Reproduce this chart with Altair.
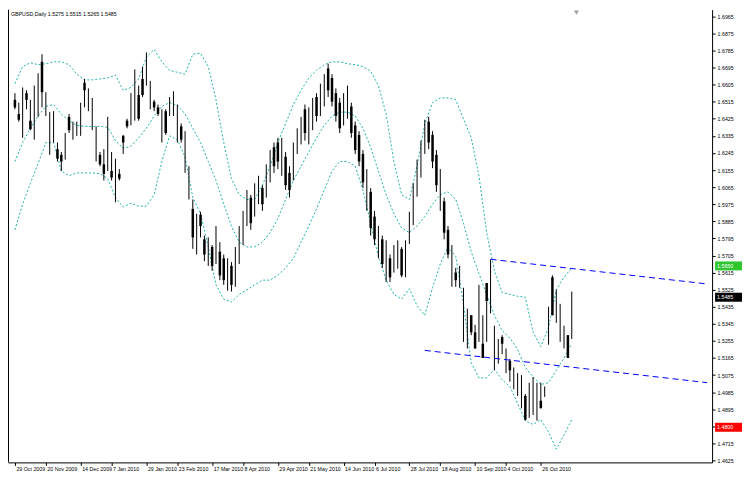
import altair as alt
import pandas as pd

SYMBOL = "GBPUSD,Daily"

opens = [1.6525, 1.645, 1.64, 1.656, 1.6415, 1.6375, 1.6475, 1.6725, 1.6475, 1.626,
         1.6325, 1.6265, 1.6235, 1.6225, 1.6435, 1.6335, 1.635, 1.635, 1.6615, 1.6475,
         1.6375, 1.6225, 1.6235, 1.6185, 1.6175, 1.615, 1.6025, 1.6135, 1.6335, 1.6415,
         1.641, 1.645, 1.655, 1.6635, 1.6625, 1.65, 1.6515, 1.6485, 1.6325, 1.6465,
         1.645, 1.646, 1.6325, 1.6385, 1.6175, 1.6025, 1.595, 1.575, 1.592, 1.579,
         1.5675, 1.575, 1.569, 1.5725, 1.569, 1.555, 1.565, 1.556, 1.569, 1.58,
         1.589, 1.601, 1.594, 1.601, 1.606, 1.604, 1.611, 1.6275, 1.63, 1.6175,
         1.6225, 1.614, 1.6125, 1.626, 1.631, 1.6475, 1.6325, 1.639, 1.654, 1.646,
         1.651, 1.669, 1.664, 1.656, 1.651, 1.641, 1.645, 1.649, 1.639, 1.634,
         1.624, 1.5975, 1.604, 1.591, 1.571, 1.579, 1.56, 1.569, 1.564, 1.566,
         1.574, 1.561, 1.579, 1.589, 1.604, 1.614, 1.626, 1.641, 1.634, 1.6235,
         1.5975, 1.599, 1.584, 1.556, 1.5615, 1.555, 1.5275, 1.525, 1.539, 1.53,
         1.5275, 1.524, 1.556, 1.5425, 1.5125, 1.515, 1.5275, 1.51, 1.515, 1.501,
         1.4975, 1.491, 1.4965, 1.4865, 1.488, 1.485, 1.494, 1.4965, 1.525, 1.559,
         1.536, 1.5265, 1.5225, 1.5285, 1.5275]

highs = [1.656, 1.651, 1.659, 1.6575, 1.6525, 1.66, 1.6665, 1.6765, 1.6565, 1.646,
         1.6465, 1.63, 1.625, 1.635, 1.645, 1.641, 1.641, 1.651, 1.6635, 1.6585,
         1.6535, 1.6385, 1.625, 1.6265, 1.6435, 1.625, 1.6215, 1.616, 1.634, 1.6425,
         1.656, 1.6685, 1.66, 1.67, 1.6775, 1.6625, 1.6525, 1.65, 1.6475, 1.6475,
         1.654, 1.657, 1.65, 1.64, 1.636, 1.6175, 1.6, 1.5925, 1.5935, 1.581,
         1.58, 1.576, 1.586, 1.5775, 1.571, 1.569, 1.567, 1.575, 1.586, 1.594,
         1.605, 1.6025, 1.6085, 1.6125, 1.6075, 1.6185, 1.626, 1.63, 1.6325, 1.6325,
         1.625, 1.6175, 1.63, 1.6375, 1.6435, 1.65, 1.6485, 1.6535, 1.656, 1.661,
         1.666, 1.6715, 1.666, 1.6585, 1.6535, 1.656, 1.66, 1.651, 1.641, 1.636,
         1.626, 1.616, 1.606, 1.594, 1.586, 1.581, 1.5785, 1.571, 1.576, 1.5785,
         1.575, 1.5785, 1.5935, 1.6085, 1.621, 1.631, 1.642, 1.6435, 1.636, 1.626,
         1.616, 1.601, 1.586, 1.576, 1.564, 1.565, 1.5535, 1.5425, 1.539, 1.534,
         1.555, 1.539, 1.556, 1.5685, 1.5335, 1.5265, 1.5285, 1.5215, 1.516, 1.5115,
         1.5085, 1.5075, 1.4975, 1.5035, 1.5065, 1.5035, 1.5035, 1.5015, 1.5435, 1.56,
         1.5525, 1.545, 1.5335, 1.5285, 1.5515]

lows = [1.6475, 1.641, 1.6325, 1.6475, 1.6365, 1.6315, 1.6435, 1.6485, 1.644, 1.6235,
        1.63, 1.62, 1.615, 1.621, 1.635, 1.6315, 1.6335, 1.6335, 1.6485, 1.6465,
        1.6365, 1.62, 1.6175, 1.61, 1.615, 1.61, 1.5985, 1.61, 1.624, 1.6375,
        1.639, 1.6415, 1.6415, 1.654, 1.66, 1.6475, 1.6465, 1.644, 1.63, 1.634,
        1.644, 1.644, 1.63, 1.63, 1.614, 1.6, 1.574, 1.571, 1.58, 1.5675,
        1.565, 1.5625, 1.566, 1.5575, 1.555, 1.552, 1.5515, 1.554, 1.566, 1.576,
        1.586, 1.584, 1.591, 1.5975, 1.594, 1.601, 1.609, 1.614, 1.616, 1.6125,
        1.605, 1.601, 1.61, 1.624, 1.629, 1.631, 1.629, 1.6365, 1.641, 1.644,
        1.649, 1.654, 1.649, 1.641, 1.635, 1.639, 1.6425, 1.6325, 1.624, 1.6175,
        1.606, 1.594, 1.581, 1.576, 1.569, 1.564, 1.5565, 1.5565, 1.5615, 1.5635,
        1.559, 1.559, 1.5765, 1.5865, 1.6015, 1.6115, 1.624, 1.6265, 1.6165, 1.604,
        1.594, 1.579, 1.569, 1.554, 1.554, 1.5535, 1.525, 1.5215, 1.5285, 1.5215,
        1.525, 1.5165, 1.525, 1.54, 1.51, 1.5135, 1.5185, 1.5085, 1.504, 1.5,
        1.4965, 1.49, 1.4835, 1.485, 1.4865, 1.4835, 1.49, 1.496, 1.5235, 1.539,
        1.535, 1.525, 1.5215, 1.5165, 1.5265]

closes = [1.6485, 1.642, 1.6525, 1.6525, 1.637, 1.655, 1.6625, 1.6565, 1.6525, 1.6425,
          1.6425, 1.6215, 1.62, 1.6325, 1.6365, 1.639, 1.639, 1.649, 1.6575, 1.656,
          1.651, 1.636, 1.6185, 1.6135, 1.64, 1.6115, 1.615, 1.611, 1.63, 1.6385,
          1.654, 1.665, 1.6425, 1.655, 1.674, 1.66, 1.6485, 1.645, 1.645, 1.635,
          1.6525, 1.654, 1.6475, 1.6315, 1.6325, 1.616, 1.58, 1.589, 1.586, 1.571,
          1.5775, 1.565, 1.5825, 1.56, 1.5575, 1.566, 1.555, 1.571, 1.5825, 1.591,
          1.6025, 1.5875, 1.606, 1.61, 1.5975, 1.616, 1.624, 1.6175, 1.62, 1.63,
          1.6075, 1.605, 1.6275, 1.635, 1.641, 1.635, 1.646, 1.651, 1.644, 1.659,
          1.664, 1.6575, 1.6515, 1.644, 1.6375, 1.654, 1.6575, 1.635, 1.626, 1.62,
          1.609, 1.6125, 1.585, 1.579, 1.584, 1.566, 1.575, 1.559, 1.574, 1.576,
          1.56, 1.576, 1.591, 1.605, 1.6185, 1.6285, 1.639, 1.63, 1.62, 1.6075,
          1.6125, 1.5825, 1.571, 1.5725, 1.5575, 1.5635, 1.55, 1.54, 1.53, 1.5215,
          1.5525, 1.5165, 1.5465, 1.565, 1.531, 1.525, 1.524, 1.52, 1.51, 1.51,
          1.507, 1.505, 1.484, 1.502, 1.505, 1.5015, 1.49, 1.5005, 1.541, 1.539,
          1.55, 1.5425, 1.532, 1.5165, 1.5485]

# Bollinger bands (20, 2) read every second bar
band_bars = list(range(0, 145, 2))
upper_band = [1.661, 1.67, 1.672, 1.671, 1.6715, 1.6725, 1.6725, 1.671, 1.666, 1.663,
              1.663, 1.6635, 1.664, 1.6655, 1.6575, 1.659, 1.6635, 1.675, 1.679, 1.6725,
              1.668, 1.667, 1.666, 1.6765, 1.677, 1.67, 1.6525, 1.63, 1.611, 1.6025,
              1.6, 1.6, 1.6075, 1.6175, 1.63, 1.64, 1.65, 1.6575, 1.664, 1.668,
              1.671, 1.6725, 1.6725, 1.6715, 1.671, 1.67, 1.6675, 1.66, 1.645, 1.62,
              1.6025, 1.6, 1.6175, 1.64, 1.651, 1.6535, 1.6535, 1.6525, 1.6425, 1.6325,
              1.6125, 1.5825, 1.5625, 1.551, 1.55, 1.549, 1.5485, 1.53, 1.5225, 1.5325,
              1.5525, 1.559, 1.564]
middle_band = [1.62, 1.63, 1.6375, 1.644, 1.649, 1.65, 1.645, 1.6415, 1.639, 1.6385,
               1.6385, 1.6385, 1.638, 1.631, 1.627, 1.628, 1.6325, 1.6375, 1.644, 1.649,
               1.651, 1.6495, 1.645, 1.6375, 1.63, 1.62, 1.61, 1.5975, 1.586, 1.5775,
               1.575, 1.575, 1.5775, 1.5825, 1.59, 1.6, 1.61, 1.6175, 1.625, 1.6325,
               1.639, 1.644, 1.646, 1.646, 1.644, 1.6375, 1.6275, 1.615, 1.6025, 1.5925,
               1.585, 1.5825, 1.586, 1.591, 1.5975, 1.6025, 1.604, 1.6, 1.5875, 1.5725,
               1.561, 1.55, 1.539, 1.531, 1.527, 1.521, 1.5115, 1.5065, 1.5025, 1.5035,
               1.51, 1.5165, 1.524]
lower_band = [1.584, 1.5975, 1.6085, 1.619, 1.63, 1.63, 1.615, 1.6125, 1.614, 1.614,
              1.614, 1.6135, 1.611, 1.601, 1.596, 1.598, 1.5965, 1.5965, 1.6025, 1.62,
              1.6335, 1.6315, 1.6225, 1.601, 1.5925, 1.575, 1.555, 1.5475, 1.546, 1.55,
              1.5525, 1.555, 1.5575, 1.5575, 1.56, 1.564, 1.569, 1.5775, 1.586, 1.595,
              1.605, 1.615, 1.62, 1.62, 1.6175, 1.605, 1.5875, 1.57, 1.5575, 1.55,
              1.5475, 1.553, 1.544, 1.539, 1.5535, 1.566, 1.575, 1.57, 1.545, 1.514,
              1.506, 1.506, 1.5105, 1.505, 1.5015, 1.4925, 1.4835, 1.4815, 1.484, 1.4775,
              1.4685, 1.476, 1.484]

# trend lines (bar index, price)
trend_upper_bars = [123, 179]
trend_upper_prices = [1.5685, 1.5555]
trend_lower_bars = [106, 179]
trend_lower_prices = [1.5205, 1.5035]

price_ticks = [1.6965, 1.6875, 1.6785, 1.6695, 1.6605, 1.6515, 1.6425, 1.6335, 1.6245,
               1.6155, 1.6065, 1.5975, 1.5885, 1.5795, 1.5705, 1.5615, 1.5525, 1.5435,
               1.5345, 1.5255, 1.5165, 1.5075, 1.4985, 1.4895, 1.4805, 1.4715, 1.4625]

date_label_bars = [0, 8, 17, 25, 34, 42, 51, 59, 68, 76, 85, 93, 102, 110, 119, 127, 136]
date_labels = ["29 Oct 2009", "20 Nov 2009", "14 Dec 2009", "7 Jan 2010", "29 Jan 2010",
               "23 Feb 2010", "17 Mar 2010", "8 Apr 2010", "29 Apr 2010", "21 May 2010",
               "14 Jun 2010", "6 Jul 2010", "28 Jul 2010", "18 Aug 2010", "10 Sep 2010",
               "4 Oct 2010", "26 Oct 2010"]

marker_prices = [1.5650, 1.5485, 1.4800]
marker_colors = ["#2EC62E", "#000000", "#FF0000"]

W, H = 706, 454
FONT = "Liberation Sans"
FS = 5.3

xs = alt.Scale(domain=[-0.5, 179], nice=False, zero=False)
ys = alt.Scale(domain=[1.4615, 1.7], nice=False, zero=False)

candles = pd.DataFrame({"bar": list(range(len(opens))), "open": opens, "high": highs,
                        "low": lows, "close": closes})

label_expr = ("[" + ",".join("'" + s + "'" for s in date_labels) + "][indexof(["
              + ",".join(str(b) for b in date_label_bars) + "], datum.value)]")

x_axis = alt.Axis(values=date_label_bars, labelExpr=label_expr, labelAlign="left",
                  labelBaseline="top", labelFontSize=FS, labelFont=FONT, labelColor="black",
                  tickColor="black", tickSize=3, labelPadding=1, domainColor="black",
                  grid=False, title=None, labelOverlap=False, labelFlush=False,
                  labelBound=False, labelOffset=1)
y_axis = alt.Axis(orient="right", values=price_ticks, format=".4f", labelFontSize=FS,
                  labelFont=FONT, labelColor="black", tickColor="black", tickSize=3,
                  labelPadding=2, domainColor="black", grid=False, title=None,
                  labelOverlap=False, labelFlush=False, labelBound=False)


def X(field):
    return alt.X(field, scale=xs, axis=x_axis)


def Y(field):
    return alt.Y(field, scale=ys, axis=y_axis)


band_df = pd.DataFrame({"bar": band_bars, "upper": upper_band, "middle": middle_band,
                        "lower": lower_band}).melt("bar", var_name="band", value_name="price")

bands = alt.Chart(band_df).mark_line(color="#20B2AA", strokeWidth=1, strokeDash=[2, 2]).encode(
    x=X("bar:Q"), y=Y("price:Q"), detail="band:N",
)

wicks = alt.Chart(candles).mark_rule(color="black", strokeWidth=1).encode(
    x=X("bar:Q"), y=Y("high:Q"), y2="low:Q",
)

bodies = alt.Chart(candles).transform_filter("datum.close < datum.open").mark_bar(
    color="black", width=2.5).encode(
    x=X("bar:Q"), y=Y("open:Q"), y2="close:Q",
)

trend_df = pd.DataFrame({
    "line": ["upper"] * len(trend_upper_bars) + ["lower"] * len(trend_lower_bars),
    "bar": trend_upper_bars + trend_lower_bars,
    "price": trend_upper_prices + trend_lower_prices,
})
trends = alt.Chart(trend_df).mark_line(color="#0000FF", strokeWidth=1, strokeDash=[6, 4]).encode(
    x=X("bar:Q"), y=Y("price:Q"), detail="line:N",
)

marker_df = pd.DataFrame({"price": marker_prices, "bg": marker_colors})
marker_boxes = alt.Chart(marker_df).mark_rect(yOffset=-4.5, y2Offset=4.5).encode(
    x=alt.value(W + 3),
    x2=alt.value(W + 30),
    y=Y("price:Q"),
    y2="price:Q",
    color=alt.Color("bg:N", scale=None),
)
marker_text = alt.Chart(marker_df).mark_text(align="left", baseline="middle", color="white",
                                             fontSize=FS, font=FONT).encode(
    x=alt.value(W + 5),
    y=Y("price:Q"),
    text=alt.Text("price:Q", format=".4f"),
)

title_str = "%s  %.4f %.4f %.4f %.4f" % (SYMBOL, opens[-1], highs[-1], lows[-1], closes[-1])
title = alt.Chart(pd.DataFrame({"t": [title_str]})).mark_text(
    align="left", baseline="top", fontSize=FS, font=FONT, color="black").encode(
    x=alt.value(3), y=alt.value(2), text="t:N")

left_edge = alt.Chart(pd.DataFrame({"a": [0]})).mark_rule(color="black", strokeWidth=1).encode(
    x=alt.value(0.5), y=alt.value(0), y2=alt.value(H))

shift_marker = alt.Chart(pd.DataFrame({"a": [0]})).mark_point(
    shape="triangle-down", filled=True, color="#A0A0A0", size=25, opacity=1).encode(
    x=alt.value(570), y=alt.value(3))

chart = alt.layer(bands, wicks, bodies, trends, marker_boxes, marker_text, title,
                  left_edge, shift_marker).properties(
    width=W, height=H, padding=0, background="white"
).configure_view(stroke=None)

chart.save("out.html", embed_options={"renderer": "svg", "actions": False})
